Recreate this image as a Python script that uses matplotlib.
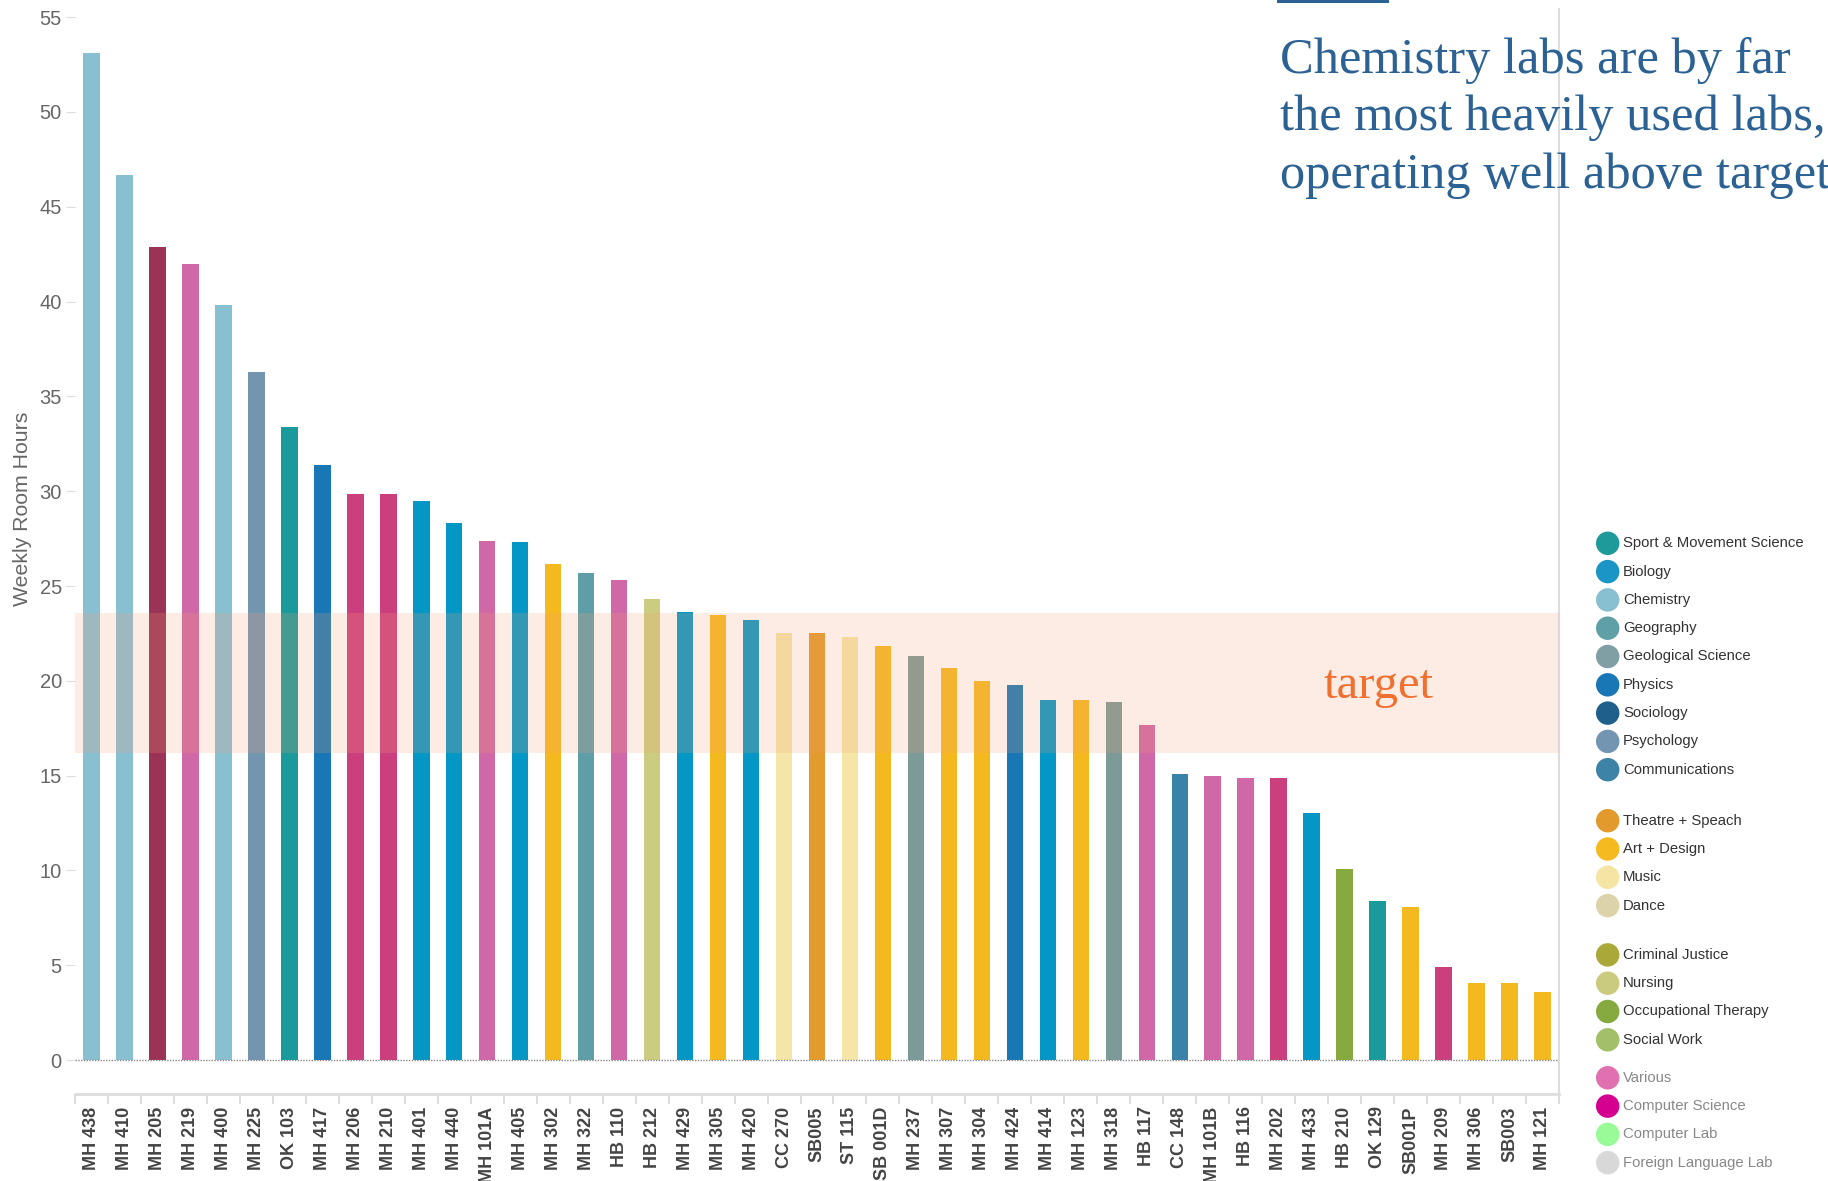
import matplotlib.pyplot as plt
import numpy as np
from matplotlib.patches import Rectangle

# room usage
rooms = ["MH 438", "MH 410", "MH 205", "MH 219", "MH 400", "MH 225", "OK 103", "MH 417",
         "MH 206", "MH 210", "MH 401", "MH 440", "MH 101A", "MH 405", "MH 302", "MH 322",
         "HB 110", "HB 212", "MH 429", "MH 305", "MH 420", "CC 270", "SB005", "ST 115",
         "SB 001D", "MH 237", "MH 307", "MH 304", "MH 424", "MH 414", "MH 123", "MH 318",
         "HB 117", "CC 148", "MH 101B", "HB 116", "MH 202", "MH 433", "HB 210", "OK 129",
         "SB001P", "MH 209", "MH 306", "SB003", "MH 121"]
hours = [53.1, 46.7, 42.9, 42.0, 39.8, 36.3, 33.4, 31.4, 29.85, 29.85, 29.5, 28.3, 27.4,
         27.3, 26.15, 25.7, 25.3, 24.3, 23.65, 23.45, 23.2, 22.5, 22.5, 22.3, 21.85, 21.3,
         20.7, 20.0, 19.8, 19.0, 19.0, 18.9, 17.65, 15.1, 15.0, 14.9, 14.9, 13.05, 10.1,
         8.4, 8.05, 4.9, 4.05, 4.05, 3.6]
bar_colors = ["#88bfd1", "#88bfd1", "#9b3357", "#d067a6", "#88bfd1", "#7395b0", "#1a9a9a",
              "#1877b4", "#cc3f7e", "#cc3f7e", "#0496c4", "#0496c4", "#d067a6", "#0496c4",
              "#f4b91f", "#5f9ea7", "#d067a6", "#cccc80", "#0496c4", "#f4b91f", "#0496c4",
              "#f5e6a8", "#e29b2c", "#f5e6a8", "#f4b91f", "#7b9a98", "#f4b91f", "#f4b91f",
              "#1877b4", "#0496c4", "#f4b91f", "#7b9a98", "#d067a6", "#3b82a8", "#d067a6",
              "#d067a6", "#cc3f7e", "#0496c4", "#86aa40", "#1a9a9a", "#f4b91f", "#cc3f7e",
              "#f4b91f", "#f4b91f", "#f4b91f"]
target_low, target_high = 16.2, 23.6

legend_groups = [
    [("Sport & Movement Science", "#1f9a9a"), ("Biology", "#1b95c6"), ("Chemistry", "#88bfd1"),
     ("Geography", "#5f9fa6"), ("Geological Science", "#7f9fa5"), ("Physics", "#1877b4"),
     ("Sociology", "#1f5f8b"), ("Psychology", "#7395b1"), ("Communications", "#3d82a7")],
    [("Theatre + Speach", "#e29a2c"), ("Art + Design", "#f4ba1f"), ("Music", "#f5e5a5"),
     ("Dance", "#ddd3ab")],
    [("Criminal Justice", "#a9a838"), ("Nursing", "#cbcb80"), ("Occupational Therapy", "#86aa40"),
     ("Social Work", "#a3bf6a")],
    [("Various", "#e070b0"), ("Computer Science", "#d4008f"), ("Computer Lab", "#98fb98"),
     ("Foreign Language Lab", "#d8d8d8")],
]

title_lines = ["Chemistry labs are by far",
               "the most heavily used labs,",
               "operating well above target"]

W, H = 1828, 1181
fig = plt.figure(figsize=(W / 100, H / 100), dpi=100)
ax = fig.add_axes([75 / W, 1 - 1094 / H, (1559 - 75) / W, (1094 - 9) / H])

x = np.arange(len(rooms))
ax.bar(x, hours, width=0.5, color=bar_colors, zorder=2)
ax.axhspan(target_low, target_high, color="#f5a073", alpha=0.2, lw=0, zorder=3)
ax.axhline(0, color="#888888", lw=1, ls=(0, (1, 1)), zorder=4)
ax.text(39.04, 19.1, "target", color="#f07030",
        fontsize=35, family="Liberation Serif", ha="center", va="baseline", zorder=5)

ax.set_xlim(-0.5, len(rooms) - 0.5)
ax.set_ylim(-1.79, 55.43)
ax.set_yticks(range(0, 56, 5))
ax.tick_params(axis="y", length=6.5, color="#dddddd", labelsize=14.5, labelcolor="#666666", pad=3)
for lab in ax.get_yticklabels():
    lab.set_family("Liberation Sans")

ax.set_xticks(x)
ax.set_xticklabels(rooms, rotation=90, fontsize=13, fontweight="bold", color="#444444",
                   family="Liberation Sans")
ax.set_xticks(np.arange(-0.5, len(rooms)), minor=True)
ax.tick_params(axis="x", which="major", length=0, pad=9)
ax.tick_params(axis="x", which="minor", length=7, color="#dddddd", width=1.5)

for s in ["left", "top"]:
    ax.spines[s].set_visible(False)
ax.spines["bottom"].set_color("#dddddd")
ax.spines["bottom"].set_linewidth(2)
ax.spines["right"].set_color("#dddddd")
ax.spines["right"].set_linewidth(1.5)

ax.set_ylabel("Weekly Room Hours", fontsize=15.3, color="#666666", family="Liberation Sans")
ax.yaxis.set_label_coords(-43 / (1559 - 75), (1094 - 509) / (1094 - 9))

# overlay in pixel coordinates for title and legend
ov = fig.add_axes([0, 0, 1, 1])
ov.set_xlim(0, W)
ov.set_ylim(H, 0)
ov.set_axis_off()
ov.patch.set_alpha(0)

ov.add_patch(Rectangle((1277, 0), 112, 3, color="#2b6193", lw=0))
for i, line in enumerate(title_lines):
    ov.text(1280, 72.7 + i * 57.7, line, color="#2b6193", fontsize=36.4,
            family="Liberation Serif", va="baseline", ha="left", clip_on=False)

gaps = [0, 22.7, 21, 9.7]
y = 543.3
offset = 0
for gi, group in enumerate(legend_groups):
    offset += gaps[gi]
    txt_color = "#888888" if gi == 3 else "#333333"
    for name, col in group:
        ov.scatter([1607.7], [y + offset], s=285, color=col, edgecolor="none")
        ov.text(1623, y + offset, name, fontsize=10.7, color=txt_color,
                family="Liberation Sans", va="center", ha="left")
        y += 28.3

fig.savefig("out.png", dpi=100)
